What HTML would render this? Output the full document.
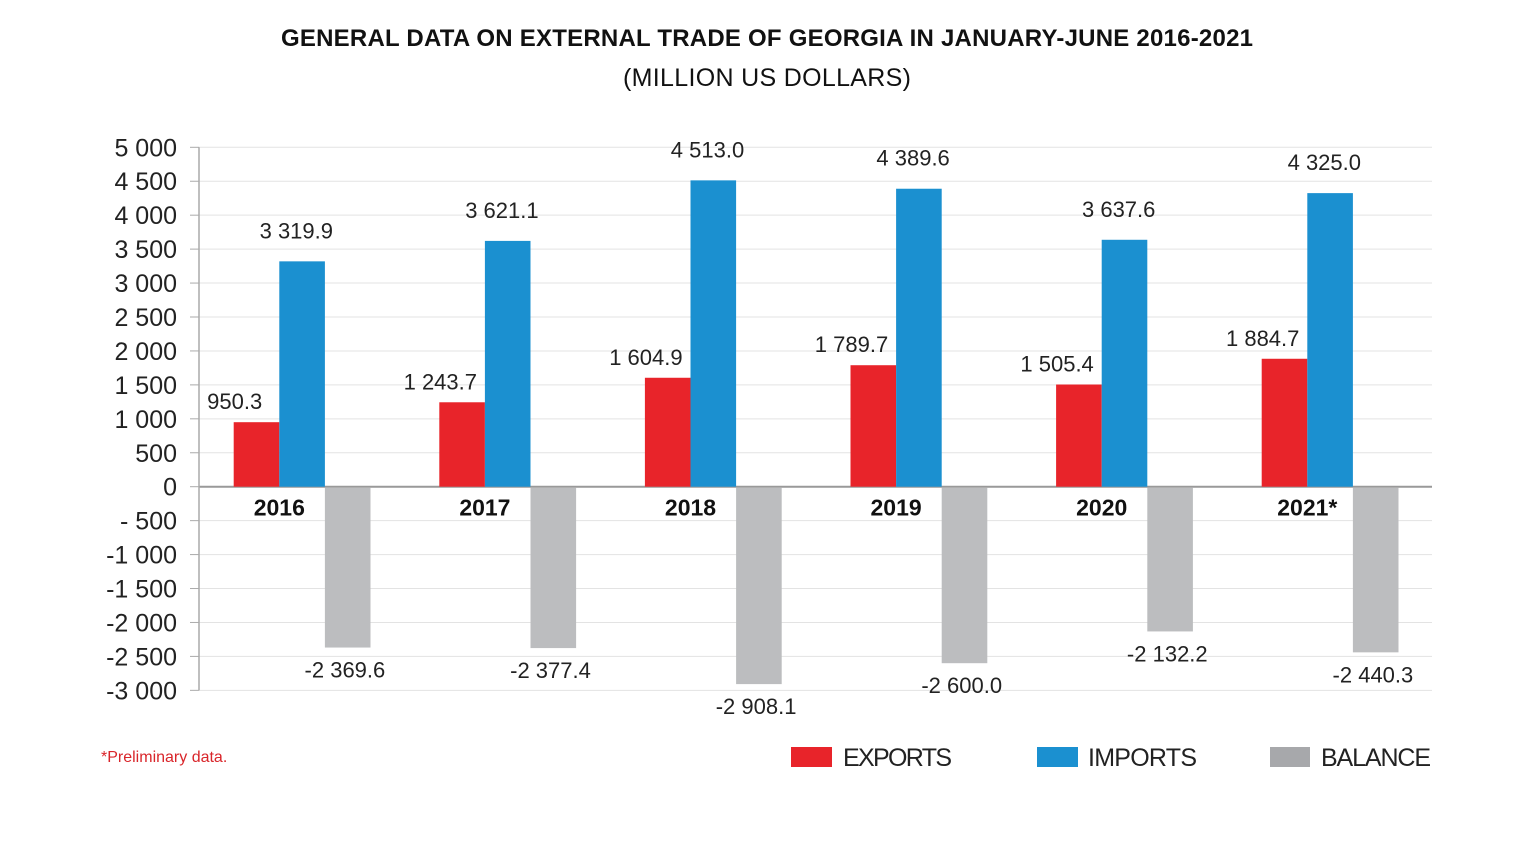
<!DOCTYPE html>
<html><head><meta charset="utf-8"><style>
body{margin:0;background:#fff;}
svg{display:block;font-family:"Liberation Sans",sans-serif;}
</style></head><body>
<svg id="chart" width="1535" height="863">
<text x="767" y="46" text-anchor="middle" font-size="24" font-weight="bold" fill="#111" textLength="972">GENERAL DATA ON EXTERNAL TRADE OF GEORGIA IN JANUARY-JUNE 2016-2021</text>
<text x="767" y="86" text-anchor="middle" font-size="25" fill="#111" textLength="288">(MILLION US DOLLARS)</text>
<g id="grid"></g><g id="bars"></g><g id="labels"></g>
<text x="101" y="762" font-size="16" fill="#d9252a">*Preliminary data.</text>
<g>
<rect x="791" y="747" width="41" height="20" fill="#e8242a"/>
<text x="843" y="766" font-size="25" fill="#222" textLength="109">EXPORTS</text>
<rect x="1037" y="747" width="41" height="20" fill="#1b90d0"/>
<text x="1088" y="766" font-size="25" fill="#222" textLength="109">IMPORTS</text>
<rect x="1270" y="747" width="40" height="20" fill="#a7a8ab"/>
<text x="1321" y="766" font-size="25" fill="#222" textLength="110">BALANCE</text>
</g>
</svg>
<script>
const years=["2016","2017","2018","2019","2020","2021*"];
const exportsV=[950.3,1243.7,1604.9,1789.7,1505.4,1884.7];
const importsV=[3319.9,3621.1,4513.0,4389.6,3637.6,4325.0];
const balanceV=[-2369.6,-2377.4,-2908.1,-2600.0,-2132.2,-2440.3];
const ticks=[5000,4500,4000,3500,3000,2500,2000,1500,1000,500,0,-500,-1000,-1500,-2000,-2500,-3000];
const NS="http://www.w3.org/2000/svg";
const y=v=>486.7-v*0.06788;
const gx=i=>233.7+i*205.6;
const bw=45.6;
function mk(t,a,p){const e=document.createElementNS(NS,t);for(const k in a)e.setAttribute(k,a[k]);p.appendChild(e);return e;}
const fmt=v=>{const neg=v<0;let s=Math.abs(v).toFixed(1);let [a,b]=s.split('.');a=a.replace(/\B(?=(\d{3})+(?!\d))/g,' ');return (neg?'-':'')+a+'.'+b;};
const tf=v=>{let s=Math.abs(v).toString().replace(/\B(?=(\d{3})+(?!\d))/g,' ');return v<0?(v==-500?'- 500':'-'+s):s;};
const G=document.getElementById('grid'),B=document.getElementById('bars'),L=document.getElementById('labels');
ticks.forEach(t=>{
 const gl=mk('line',{x1:199,x2:1432,y1:y(t),y2:y(t),stroke:t==0?'#999':'#e3e3e3','stroke-width':t==0?2:1},G);
 
 mk('line',{x1:190,x2:199,y1:y(t),y2:y(t),stroke:'#aaa'},G);
 const tx=mk('text',{x:177,y:y(t)+9,'text-anchor':'end','font-size':25,fill:'#222'},G);tx.textContent=tf(t);
 
});
mk('line',{x1:199,x2:199,y1:y(5000),y2:y(-3000),stroke:'#aaa','stroke-width':1.5},G);
years.forEach((yr,i)=>{
 const x=gx(i);
 let r=mk('rect',{x:x,y:y(exportsV[i]),width:bw,height:y(0)-y(exportsV[i]),fill:'#e8242a'},B);
 
 r=mk('rect',{x:x+bw,y:y(importsV[i]),width:bw,height:y(0)-y(importsV[i]),fill:'#1b90d0'},B);
 
 r=mk('rect',{x:x+2*bw,y:y(0)+1,width:bw,height:y(balanceV[i])-y(0)-1,fill:'#bcbdbf'},B);
 
 let t=mk('text',{x:x+1,y:y(exportsV[i])-13,'text-anchor':'middle','font-size':22,fill:'#222'},L);t.textContent=fmt(exportsV[i]);
 
 t=mk('text',{x:x+bw+17,y:y(importsV[i])-23,'text-anchor':'middle','font-size':22,fill:'#222'},L);t.textContent=fmt(importsV[i]);
 
 t=mk('text',{x:x+2*bw+20,y:y(balanceV[i])+30,'text-anchor':'middle','font-size':22,fill:'#222'},L);t.textContent=fmt(balanceV[i]);
 
 t=mk('text',{x:x+bw,y:y(0)+29,'text-anchor':'middle','font-size':23,'font-weight':'bold',fill:'#111'},L);t.textContent=yr;
 
});
</script>
</body></html>
